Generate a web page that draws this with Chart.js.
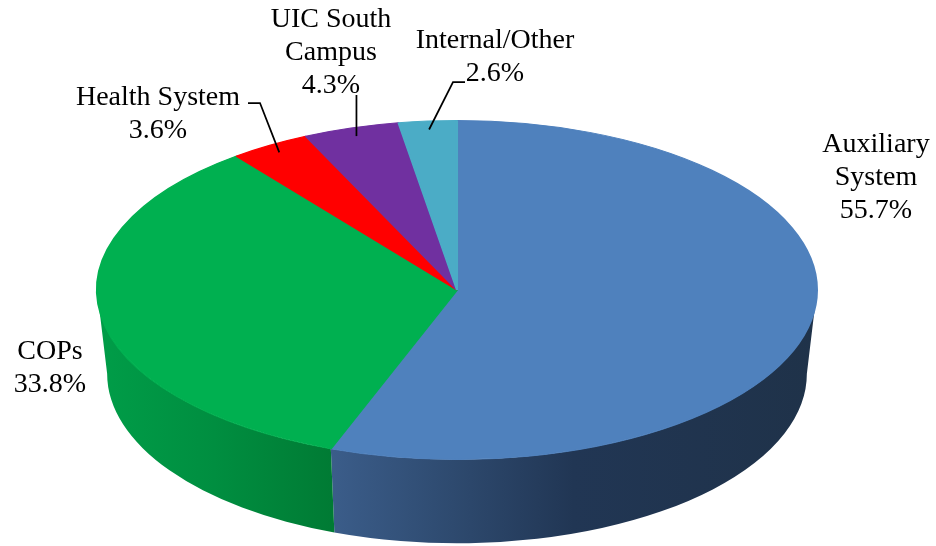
<!DOCTYPE html>
<html lang="en">
<head>
<meta charset="UTF-8">
<title>Share by unit</title>
<style>
  body { margin: 0; background: #fff; }
  #wrap { width: 936px; height: 546px; position: relative; }
</style>
<script src="https://cdn.jsdelivr.net/npm/chart.js"></script>
</head>
<body>
<div id="wrap"><canvas id="pie"></canvas></div>
<script>
// data
const categories = ['Auxiliary System', 'COPs', 'Health System', 'UIC South Campus', 'Internal/Other'];
const shares = [55.7, 33.8, 3.6, 4.3, 2.6];
const labelLines = [['Auxiliary', 'System'], ['COPs'], ['Health System'], ['UIC South', 'Campus'], ['Internal/Other']];

// styling
const topColors = ['#4f81bd', '#00b050', '#ff0000', '#7030a0', '#4bacc6'];
const sideStops = [
  [[0, '#3b5d8a'], [0.25, '#2e4a6f'], [0.5, '#213654'], [1, '#1f3249']],
  [[0, '#009d48'], [0.5, '#008e40'], [1, '#007b34']],
  [[0, '#c00000'], [1, '#a00000']],
  [[0, '#582680'], [1, '#482068']],
  [[0, '#3a8ea6'], [1, '#2f7a8e']]
];
const ASPECT = 361 / 170;   // horizontal stretch of the top face
const DEPTH = 84 / 170;     // wall height relative to radius
const SHRINK = 0.972;       // bottom rim a little narrower (perspective)

// label layout: centre x, first baseline y, leader bend points
const labelPos = [
  {x: 876, y: 152},
  {x: 50, y: 359},
  {x: 158, y: 105, leader: [[260, 103], [248, 103]]},
  {x: 331, y: 27, vertical: 95},
  {x: 495, y: 48, leader: [[453, 82], [465, 82]]}
];
const LINE_H = 33;

const pie3d = {
  id: 'pie3d',
  beforeDatasetsDraw(chart) {
    const ctx = chart.ctx;
    const arcs = chart.getDatasetMeta(0).data;
    const cx = arcs[0].x, cy = arcs[0].y, r = arcs[0].outerRadius;
    const rx = r * ASPECT, ry = r, depth = r * DEPTH;
    // front walls (only the lower half of the rim is visible)
    arcs.forEach((arc, i) => {
      const a1 = Math.max(arc.startAngle, 0);
      const a2 = Math.min(arc.endAngle, Math.PI);
      if (a2 <= a1) return;
      const xl = cx + rx * Math.cos(a2), xr = cx + rx * Math.cos(a1);
      const g = ctx.createLinearGradient(xl, 0, xr, 0);
      sideStops[i].forEach(s => g.addColorStop(s[0], s[1]));
      ctx.beginPath();
      ctx.ellipse(cx, cy, rx, ry, 0, a1, a2);
      ctx.ellipse(cx, cy + depth, rx * SHRINK, ry, 0, a2, a1, true);
      ctx.closePath();
      ctx.fillStyle = g;
      ctx.fill();
    });
    ctx.save();
    ctx.translate(cx, cy);
    ctx.scale(ASPECT, 1);
    ctx.translate(-cx, -cy);
  },
  afterDatasetsDraw(chart) {
    const ctx = chart.ctx;
    ctx.restore();
    const arcs = chart.getDatasetMeta(0).data;
    const cx = arcs[0].x, cy = arcs[0].y, r = arcs[0].outerRadius;
    const rx = r * ASPECT, ry = r;

    ctx.save();
    ctx.strokeStyle = '#000';
    ctx.lineWidth = 1.75;
    arcs.forEach((arc, i) => {
      const p = labelPos[i];
      const mid = (arc.startAngle + arc.endAngle) / 2;
      const ax = cx + rx * 0.95 * Math.cos(mid);
      const ay = cy + ry * 0.95 * Math.sin(mid);
      if (p.leader) {
        ctx.beginPath();
        ctx.moveTo(ax, ay);
        p.leader.forEach(pt => ctx.lineTo(pt[0], pt[1]));
        ctx.stroke();
      } else if (p.vertical) {
        ctx.beginPath();
        ctx.moveTo(ax, ay);
        ctx.lineTo(ax, p.vertical);
        ctx.stroke();
      }
    });

    ctx.fillStyle = '#000';
    ctx.font = '28px "Liberation Serif", "Times New Roman", serif';
    ctx.textAlign = 'center';
    ctx.textBaseline = 'alphabetic';
    shares.forEach((v, i) => {
      const p = labelPos[i];
      const lines = labelLines[i].concat([v.toFixed(1) + '%']);
      lines.forEach((t, k) => ctx.fillText(t, p.x, p.y + k * LINE_H));
    });
    ctx.restore();
  }
};

new Chart(document.getElementById('pie'), {
  type: 'pie',
  data: {
    labels: categories,
    datasets: [{
      data: shares,
      backgroundColor: topColors,
      borderColor: topColors,
      borderWidth: 1
    }]
  },
  options: {
    responsive: true,
    maintainAspectRatio: false,
    animation: false,
    events: [],
    layout: { padding: { left: 96, right: 118, top: 120, bottom: 86 } },
    plugins: {
      legend: { display: false },
      tooltip: { enabled: false }
    }
  },
  plugins: [pie3d]
});
</script>
</body>
</html>
